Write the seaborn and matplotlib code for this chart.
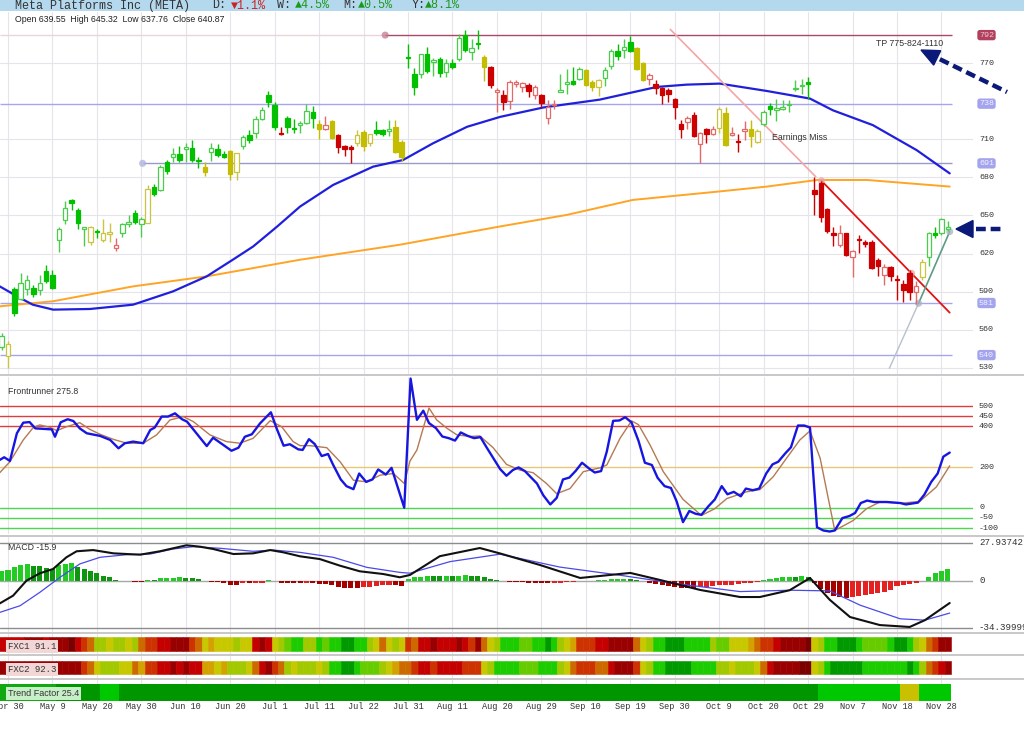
import matplotlib
matplotlib.use("Agg")
import matplotlib.pyplot as plt
import matplotlib.transforms as mtrans
from matplotlib.lines import Line2D
from matplotlib.patches import Rectangle, Polygon
import numpy as np
import seaborn as sns

# ---------------- data (bar index 0 = Apr 30) ----------------
bar_idx = list(range(-1, 149))
opens = [546, 539, 592, 584, 592, 593, 591, 606, 603, 631, 646, 662, 654, 639, 629, 637.5, 631, 635, 624, 636,
         643.5, 652, 643, 644, 672, 670, 692, 696, 698, 702, 703, 694, 688, 700, 702, 698, 701, 684, 705, 713,
         715, 726, 745, 737, 715, 727, 719, 721.5, 723, 731.5, 722, 718, 724, 713.5, 704.6, 703.5, 707, 716, 707, 717,
         717, 716.3, 720, 708, 775, 761, 761, 777, 771, 773, 763, 770, 773, 792, 778.6, 785.7, 775, 767, 747, 744.6,
         740, 753.8, 751, 752.5, 744.6, 744.6, 727, 737, 747.2, 753.3, 756, 757.7, 764.8, 755, 751.2, 758.5, 768, 779.4, 780.5, 786.5,
         782, 770, 757.7, 753.3, 750, 748.5, 742, 722, 723.7, 729.4, 706, 717.7, 714.5, 719, 730.7, 713.2, 708.8, 716.6, 717.7, 708,
         721.9, 736, 733.4, 734, 736.8, 749.6, 751.7, 755, 670, 675.8, 655, 636, 627, 636, 617.2, 631.3, 628.7, 628.7, 614.6, 603.3,
         609.3, 599.9, 596.2, 605, 589.4, 601.5, 617.2, 636.5, 636.5, 639.55]
highs = [557, 551, 594, 605, 603, 595, 603, 611, 607, 641, 661, 663, 656, 641, 642, 639, 647, 644, 632, 644,
         650, 654, 649, 674, 675, 690, 694, 703, 705, 707, 709, 696, 692, 707, 706, 701, 701.5, 699, 713, 717,
         728, 735, 748, 739, 720, 728, 726, 724, 738, 736, 725, 728, 725, 714, 705.4, 705.4, 717, 717, 714.5, 724,
         718.4, 725, 725.5, 709, 785, 766, 777, 783, 774, 775, 773, 773, 793, 796, 789, 796, 776, 767.4, 750, 748.5,
         756.4, 756.4, 755, 754, 752.5, 746, 741, 741, 761.6, 765.6, 767, 767, 765.6, 756.4, 757.7, 767, 781, 784.7, 789, 791,
         783, 770.8, 762.2, 757, 751.2, 750, 742.8, 725, 728, 731.5, 716, 719.2, 720.3, 735, 735, 719.8, 714.5, 724.5, 725, 717.7,
         733.4, 738.6, 742, 741, 740.7, 756.4, 757.7, 759, 680.5, 677.4, 655.6, 641, 642.5, 636.5, 623, 634.7, 630.8, 630.3, 616.4, 612,
         610.4, 603.3, 599.4, 606.7, 598, 615.6, 637.3, 641.2, 647.8, 645.32]
lows = [544, 530, 571, 583, 587, 586, 587, 597, 592, 621, 643, 654, 639, 626, 627, 632, 629, 629, 622, 633,
        641, 643, 633, 644, 665, 669, 683, 692, 692, 692, 692, 687, 681, 693, 696, 695.5, 678, 678, 702, 707,
        711, 725, 735, 717, 713, 715, 715, 715, 722, 719, 710, 717, 710, 699, 697, 691, 705, 701, 704.6, 713,
        712.4, 712.4, 699, 693, 766, 745, 758.5, 762, 760, 759, 759, 765.6, 772, 779, 772.6, 781, 756, 750, 731.5, 733.4,
        734, 751.2, 747, 743, 742, 735, 722, 734, 747, 746, 752.5, 756.4, 751.7, 748, 743.8, 751.7, 765.6, 772.6, 774, 778.6,
        764.8, 755.9, 752.5, 745.4, 738, 739.4, 726.3, 710.6, 718.4, 711.4, 691, 706.7, 713.2, 715, 704.6, 712.4, 700, 709.3, 704, 707.2,
        720.3, 729, 724.5, 732.8, 731.5, 748, 746, 742, 650.4, 645.2, 636, 626, 625.5, 618.2, 601.5, 620.3, 625.5, 607.7, 602, 595.4,
        598, 583.7, 581.6, 583.7, 580.5, 599.4, 609.8, 632.1, 634.7, 637.76]
closes = [555, 549, 573, 597, 599, 588, 597, 598, 593, 639, 656, 660, 644, 641, 641, 637, 636, 637, 627, 643,
          644.5, 645, 647, 671, 667, 688, 685, 698, 694, 703.5, 694, 693, 684, 703, 697.5, 696.2, 683, 699, 712, 709,
          726, 733, 739, 720, 714, 720, 718, 722.5, 732, 727, 718, 721, 711, 703.5, 702, 702.5, 713, 705, 714, 715,
          714, 718, 700, 696, 774, 751, 777, 764, 772.6, 762, 770, 767, 790, 780.5, 782, 785, 767, 752.5, 749, 739.4,
          755, 755, 754, 748, 751, 738.6, 735, 738, 748.5, 755, 753.3, 765.6, 752.5, 751.2, 756.4, 764.8, 779.4, 775.2, 782.6, 779.4,
          765.6, 756.4, 760.3, 750.6, 744.6, 745.4, 735, 718.4, 727, 712.4, 715, 714, 717.7, 734, 705.4, 715, 707.7, 717.7, 712.4, 716.6,
          731.5, 733.6, 734.7, 735, 738.1, 750.6, 752.5, 753.3, 667, 649.1, 638, 634.7, 636, 619, 621.6, 630.3, 627.6, 608.5, 610.4, 609.3,
          602.5, 598.9, 591, 589.4, 594.7, 613, 636, 634.7, 647, 640.87]
# candle tone per bar: g = green, y = yellow, r = red
tones = list("gy" "gggggggggggg" "y" "g" "yy" "r" "gggg" "y" "gggggggg" "y" "ggg" "yy"
             "gggggg" "r" "ggggg" "yry" "rrr" "yyy" "ggg" "yy"                      # Apr 29 - Jul 30
             "gggggggggggg" "y" "rrrrrrrrrrr" "gggg" "yyy" "ggggg" "yy" "rrrrrrrrrrr"
             "yy" "rrr" "yy" "gggggggg"                                             # Jul 31 - Oct 29
             "rrrrrrrrrrrrrrrrr" "y" "gggg")                                         # Oct 30 - Dec 1

blue_ma_x = [-1.3, 1.9, 3.9, 7.1, 12.9, 19.7, 26, 31.3, 35.4, 38.6, 42.4, 46, 51.2, 57.5, 62.2, 66.9, 72.3,
             77.5, 84.3, 93.2, 102.2, 106.9, 112.1, 119.5, 126.3, 129.9, 136.2, 143.1, 148.3]
blue_ma_y = [594.1, 585, 579.7, 575.8, 576.3, 579.7, 590.2, 602, 615.1, 625.5, 641.3, 657, 674, 688.4, 693.6,
             706.7, 719.8, 727.6, 735, 741.2, 751.2, 753, 753.8, 748, 742, 732.8, 721.1, 701.4, 683.1]
orange_ma_x = [-1.3, 7.1, 19.7, 31.3, 46, 61.7, 77.5, 88, 98.4, 111.7, 119.5, 127.4, 135.3, 148.3]
orange_ma_y = [578.4, 582.4, 594.1, 602, 615.1, 626.9, 641.3, 650.4, 662.2, 668.7, 672.7, 677.9, 677.9, 672.7]

# horizontal levels: (price, start bar, line colour, label box, label text colour)
levels = [(792, 59.4, '#a8486a', '#b0405c', '#f3c9d6'),
          (738, -1.3, '#a4a4f0', '#a3a3ee', '#f2f2ff'),
          (691, 21.2, '#9a9ac8', '#a3a3ee', '#f2f2ff'),
          (581, -1.3, '#a4a4f0', '#a3a3ee', '#f2f2ff'),
          (540, -1.3, '#a4a4f0', '#a3a3ee', '#f2f2ff')]
price_ticks = [770, 710, 680, 650, 620, 590, 560, 530]

# drawn trend lines: x0, y0, x1, y1, colour, width
trend_lines = [(104.3, 796.5, 127.2, 680.5, '#f3a6a6', 1.2),
               (128.1, 677.3, 148.3, 573.4, '#e01414', 1.3),
               (138.8, 529.6, 143.4, 580.8, '#b8c0cc', 1.0),
               (143.4, 580.8, 148.3, 637.2, '#5c9c84', 1.2)]
dots_x = [59.4, 21.2, 128.1, 142.3, 143.4, 148.3]
dots_y = [792, 691, 677.3, 604.4, 580.8, 637.2]
dots_c = ['#c27a8c', '#aab0dd', '#eaa6a6', '#eaa6a6', '#aab2c2', '#aab2c2']

fr_x = [-1.3, -0.6, 0.3, 1.4, 2.4, 3.4, 4.3, 6.9, 7.4, 8.3, 9.4, 10.3, 11.3, 12.4, 14.5, 16.1, 17.4, 18.4, 19.7, 21.3,
        22.4, 23.1, 24.2, 25.2, 26.3, 27.4, 28.2, 31.3, 32.3, 35.2, 36.3, 37.3, 38.4, 39.7, 41.4, 42.3, 43.4, 44.4, 45.7, 46.4,
        47.4, 48.3, 49.4, 50.4, 51.2, 52.4, 53.3, 54.4, 55.3, 56.4, 57.4, 58.3, 59.5, 60.4, 62.4, 63.4, 64.4, 65.4, 66.3, 67.4,
        68.4, 69.4, 70.4, 71.3, 72.4, 73.4, 74.4, 75.4, 77.5, 78.5, 79.5, 80.4, 81.4, 83.3, 84.3, 85.4, 86.4, 87.4, 88.4, 89.4,
        90.4, 91.5, 92.4, 93.4, 94.3, 95.3, 96.3, 97.2, 98.2, 99.3, 100.3, 101.4, 102.3, 103.4, 104.4, 105.3, 106.3, 107.3, 108.3, 109.2,
        110.3, 111.3, 112.4, 113.3, 114.3, 115.4, 116.2, 117.3, 118.3, 119.4, 120.4, 121.3, 122.4, 123.3, 124.4, 125.4, 126.3, 127.4, 128.4, 129.4,
        130.2, 131.4, 132.5, 133.4, 134.3, 135.3, 136.4, 138.4, 140.5, 141.4, 143.3, 144.3, 145.4, 146.4, 147.3, 148.3]
fr_y = [235, 248, 230, 366, 418, 421, 390, 385, 349, 420, 435, 426, 390, 366, 353, 333, 292, 317, 325, 317,
        382, 394, 448, 448, 464, 435, 423, 303, 344, 280, 295, 349, 361, 415, 469, 390, 305, 312, 287, 284,
        337, 313, 254, 264, 211, 139, 106, 91, 168, 127, 139, 188, 163, 196, 0, 635, 432, 477, 416, 391,
        350, 342, 330, 370, 353, 342, 347, 295, 190, 157, 185, 198, 180, 119, 61, 16, 48, 139, 148, 181,
        221, 193, 173, 180, 276, 427, 429, 445, 419, 328, 221, 210, 147, 106, 97, 31, -71, -16, -30, -35,
        7, 40, 106, 66, 78, 56, 94, 86, 94, 168, 213, 226, 267, 297, 404, 404, 394, -96, -112, -117,
        -112, -51, -41, -26, 23, 35, 28, 28, 23, 16, 25, 64, 127, 168, 251, 271]
fr_sig_x = [-1.3, 0.3, 2.4, 4.0, 5.0, 6.6, 7.7, 9.2, 11.3, 12.9, 14.5, 16.6, 18.7, 21.3, 23.4, 25.5, 27.6, 29.2, 31.8, 34.4,
            36.5, 38.6, 41.3, 43.1, 44.9, 46.0, 47.6, 50.2, 52.3, 54.4, 56.5, 58.6, 60.7, 62.4, 63.3, 64.4, 66.3, 67.5, 69.1, 70.7,
            72.8, 74.3, 76.4, 78.5, 80.6, 82.7, 84.8, 86.4, 88.5, 90.6, 93.2, 94.3, 96.4, 98.2, 99.3, 101.1, 103.2, 106.3, 109.2, 111.3,
            113.2, 116.3, 118.4, 120.5, 122.6, 124.7, 126.3, 127.9, 130.2, 133.1, 135.2, 137.3, 141.0, 143.6, 146.2, 148.3]
fr_sig_y = [172, 226, 333, 395, 407, 395, 379, 398, 418, 385, 361, 336, 317, 317, 358, 431, 448, 423, 358, 325,
            317, 341, 428, 398, 325, 305, 305, 295, 226, 135, 127, 160, 168, 119, 229, 284, 490, 432, 391, 358,
            350, 353, 295, 213, 185, 172, 119, 69, 94, 177, 196, 210, 342, 427, 408, 309, 177, 41, -38, -5,
            45, 78, 89, 152, 243, 333, 378, 243, -112, -63, -5, 28, 23, 31, 102, 206]
fr_levels = [(500, '#e03c3c'), (450, '#e03c3c'), (400, '#e03c3c'), (200, '#e6c878'),
             (0, '#4cd84c'), (-50, '#4cd84c'), (-100, '#4cd84c')]

macd_hist = [6.9, 7.8, 10.3, 11.5, 12.3, 11, 11, 9.3, 8.6, 11.5, 12.3, 12.7, 10.3, 8.6, 6.9, 5.4, 3.7, 2.5, 0.5, 0.1,
             0.1, -0.7, -0.7, 0.2, 0.2, 1.7, 2, 2.2, 2.5, 2.2, 1.7, 1, -0.5, -0.7, -1, -1.5, -2.9, -2.9, -2, -2,
             -1.7, -1.5, 0.5, -0.5, -1.5, -1.7, -2, -2, -1.7, -2, -2.5, -2.5, -2.9, -4.4, -5.4, -5.4, -5.4, -4.9, -4.4, -3.7,
             -3.2, -2.9, -2.9, -3.7, 1.5, 2.5, 3, 3.5, 3.5, 3.3, 3.5, 3.5, 3.8, 4, 3.6, 3.3, 2.5, 1.5, 0.5, -0.5,
             -1, -1.2, -1.2, -1.5, -1.5, -1.8, -2, -1.8, -1.5, -1.2, -0.8, -0.5, -0.5, -0.3, 0.2, 0.5, 1, 1.2, 1.5, 1.2,
             0.5, -0.5, -1.5, -2.5, -3.5, -4, -4.5, -5.5, -5.5, -5.5, -5, -4.5, -4, -3.5, -3, -2.8, -2.5, -2, -1.5, -0.8,
             0.5, 1.5, 2, 2.5, 3, 3, 3.2, 2.5, -2, -6, -9, -11, -12, -12.5, -12, -11.5, -10.5, -10, -9, -8,
             -6.5, -4, -3.5, -2.5, -1.5, -0.3, 2.9, 5.9, 7.4, 8.3]
macd_x = [-1.3, 0.8, 2.9, 5, 7.1, 9.2, 10.8, 13.4, 16.6, 20.8, 23.9, 28.1, 30.2, 32.3, 35.5, 38.6, 41.3, 43.4, 46, 49.1,
          52.3, 55.4, 59.1, 61.7, 63.3, 68, 74.3, 77.5, 83.8, 90.1, 98, 102.7, 109, 115.3, 118.4, 123.1, 126.3, 129.4, 132.6, 137.3,
          142, 144.4, 148.3]
macd_y = [-16.7, -11, 0, 5.4, 8.6, 17.2, 21.6, 22.5, 20.1, 19.1, 21.6, 26, 25, 23.3, 19.6, 20.1, 22.5, 20.8, 17.9, 15.9,
          11, 6.9, 4.9, 2.5, 4.2, 18, 24, 20, 11.5, 2, 5.7, 0.5, -6.8, -12, -12, -7, 2, -14, -26.7, -32.6,
          -34, -29, -16.4]
macd_sig_x = [-1.3, 1.9, 5, 8.2, 11.3, 14.5, 18.7, 22.4, 26, 29.2, 33.4, 38.6, 41.8, 46, 51.2, 56.5, 61.7, 63.3, 69.6, 77.5,
              86.9, 96.4, 105.8, 115.3, 123.1, 129.4, 134.2, 140.5, 144.4, 148.3]
macd_sig_y = [-23.3, -18.4, -8.6, 2.5, 12.3, 17.2, 19.1, 19.6, 23.3, 25, 23.8, 21.6, 22.5, 20.8, 17.2, 9.8, 6.1, 5.5, 14, 19.5,
              10, 4, -2.5, -8, -7, -7.5, -18, -28, -29, -23.8]
macd_levels = [27.93742, 0, -34.39999]
macd_level_text = ['27.93742', '0', '-34.39999']

# heat strips: level 0 (deep red) .. 10 (deep green)
fxc1 = [2, 2, 2, 2, 1, 1, 1, 2, 1, 1, 1, 0, 2, 3, 4, 7, 7, 6, 7, 7,
        6, 7, 4, 3, 3, 2, 2, 1, 1, 1, 3, 4, 6, 5, 6, 6, 6, 7, 6, 6,
        2, 1, 2, 6, 7, 8, 9, 9, 7, 7, 9, 8, 9, 9, 10, 10, 9, 9, 7, 6,
        4, 6, 7, 6, 3, 4, 2, 2, 1, 2, 2, 2, 1, 2, 3, 1, 4, 6, 7, 9,
        9, 9, 8, 8, 9, 9, 10, 9, 7, 6, 5, 3, 3, 3, 2, 2, 1, 1, 1, 1,
        4, 6, 7, 9, 9, 10, 10, 10, 9, 9, 9, 9, 7, 8, 8, 6, 6, 6, 5, 4,
        3, 3, 2, 1, 1, 1, 1, 0, 6, 7, 9, 9, 10, 10, 10, 9, 8, 8, 8, 8,
        9, 10, 10, 9, 7, 6, 4, 3, 1, 1]
fxc2 = [1, 1, 1, 1, 1, 1, 1, 1, 1, 1, 1, 1, 1, 3, 4, 6, 7, 7, 7, 6,
        6, 4, 5, 3, 3, 2, 2, 1, 2, 1, 2, 2, 5, 5, 6, 5, 7, 7, 7, 6,
        4, 2, 1, 3, 4, 7, 6, 7, 7, 7, 6, 7, 9, 9, 10, 10, 9, 8, 8, 8,
        7, 6, 5, 4, 4, 3, 2, 2, 3, 2, 2, 2, 2, 3, 3, 3, 6, 7, 9, 9,
        9, 9, 8, 8, 8, 9, 9, 9, 7, 6, 4, 3, 3, 3, 4, 4, 2, 1, 1, 1,
        3, 6, 7, 9, 9, 10, 10, 10, 10, 9, 9, 9, 9, 7, 7, 6, 7, 7, 7, 6,
        4, 2, 1, 1, 1, 1, 0, 0, 6, 7, 9, 10, 10, 10, 10, 10, 9, 9, 9, 9,
        9, 9, 9, 10, 9, 7, 4, 3, 2, 1]
trend_runs = [('m', -1, 7), ('d', 8, 14), ('b', 15, 17), ('d', 18, 127), ('b', 128, 140), ('y', 141, 143), ('b', 144, 148)]

date_pos = list(range(0, 148, 7))
date_labels = ['Apr 30', 'May 9', 'May 20', 'May 30', 'Jun 10', 'Jun 20', 'Jul 1', 'Jul 11', 'Jul 22', 'Jul 31', 'Aug 11',
               'Aug 20', 'Aug 29', 'Sep 10', 'Sep 19', 'Sep 30', 'Oct 9', 'Oct 20', 'Oct 29', 'Nov 7', 'Nov 18', 'Nov 28']

# ---------------- style ----------------
sns.set_theme(style="white")
plt.rcParams['font.family'] = ['Liberation Sans', 'DejaVu Sans']
MONO = ['Liberation Mono', 'DejaVu Sans Mono']
HEAT = ['#7a0000', '#990000', '#c40000', '#cc3300', '#cc6a00', '#d4a200', '#c8c800', '#a2c800', '#66cc00', '#1ccc00', '#009a00']
TREND = {'m': '#12a812', 'd': '#009600', 'b': '#00c800', 'y': '#c8c000'}
GRID = '#e4e4ea'
TXT = '#333333'

W, H = 1024, 735
fig = plt.figure(figsize=(W / 100, H / 100), dpi=100)
XL = (-1.26, 151.97)


def fy(px):
    return 1 - px / H


def panel(top, bottom, ylim):
    ax = fig.add_axes([0, fy(bottom), 973 / W, (bottom - top) / H])
    ax.set_xlim(*XL)
    ax.set_ylim(*ylim)
    ax.axis('off')
    for p in date_pos:
        ax.axvline(p, color=GRID, lw=0.8, zorder=0)
    return ax


def right_label(ax, val, text, size=6, color=TXT, box=None):
    tr = mtrans.blended_transform_factory(fig.transFigure, ax.transData)
    kw = {}
    if box is not None:
        kw['bbox'] = dict(boxstyle='round,pad=0.2,rounding_size=0.3', fc=box, ec='none')
    ax.text(979 / W, val, text, transform=tr, ha='left', va='center', fontsize=size,
            family=MONO, color=color, clip_on=False, **kw)


# header
fig.add_artist(Rectangle((0, fy(11)), 1, 11 / H, transform=fig.transFigure, fc='#b4d8ee', ec='none'))
fig.text(15 / W, fy(5.5), 'Meta Platforms Inc (META)', family=MONO, fontsize=8.5, color=TXT, va='center')
for xpx, txt, col in [(212, 'D:', TXT), (231, '▼1.1%', '#cc2222'), (277, 'W:', TXT), (295, '▲4.5%', '#1a9a1a'),
                      (343, 'M:', TXT), (358, '▲0.5%', '#1a9a1a'), (412, 'Y:', TXT), (425, '▲8.1%', '#1a9a1a')]:
    fig.text(xpx / W, fy(5.5), txt, family=MONO, fontsize=8.5, color=col, va='center')
fig.text(15 / W, fy(19), 'Open 639.55  High 645.32  Low 637.76  Close 640.87', fontsize=6.3, color='#222', va='center')

# ---------------- price panel ----------------
ax = panel(12, 374, (525.1, 810.2))
for t in price_ticks:
    ax.axhline(t, color=GRID, lw=0.8, zorder=0)
    right_label(ax, t, str(t))
ax.hlines(792, XL[0], 59.4, color='#ecd2da', lw=1, zorder=1)
for val, x0, col, box, tcol in levels:
    ax.hlines(val, x0, 148.6, color=col, lw=1, zorder=1)
    right_label(ax, val, str(val), color=tcol, box=box)

sns.lineplot(x=orange_ma_x, y=orange_ma_y, ax=ax, color='#ffa424', linewidth=1.4, sort=False, estimator=None, zorder=2)
sns.lineplot(x=blue_ma_x, y=blue_ma_y, ax=ax, color='#2020dc', linewidth=1.6, sort=False, estimator=None, zorder=2)
for x0, y0, x1, y1, col, lw in trend_lines:
    ax.plot([x0, x1], [y0, y1], color=col, lw=lw, zorder=2.5)
ax.scatter(dots_x, dots_y, s=26, c=dots_c, alpha=0.75, linewidths=0, zorder=2.6)

fill_col = {'g': '#00c000', 'y': '#c4bc00', 'r': '#cc0000'}
line_col = {'g': '#4ccc4c', 'y': '#cbc443', 'r': '#e46a6a'}
for x, o, h, l, c, t in zip(bar_idx, opens, highs, lows, closes, tones):
    up = c > o
    edge = line_col[t] if up else fill_col[t]
    ax.vlines(x, l, h, color=edge, lw=1, zorder=3)
    ax.bar(x, max(abs(c - o), 0.8), bottom=min(o, c), width=0.7,
           color='white' if up else fill_col[t], edgecolor=edge, linewidth=0.9, zorder=4)

ax.text(147.2, 785, 'TP 775-824-1110', ha='right', va='center', fontsize=6.3, color=TXT)
ax.text(120.3, 711.7, 'Earnings Miss', ha='left', va='center', fontsize=6.3, color=TXT)

# ---------------- frontrunner ----------------
ax2 = panel(377, 534, (-129.3, 642.6))
for val, col in fr_levels:
    ax2.axhline(val, color=col, lw=1, zorder=1)
    right_label(ax2, val, str(val))
sns.lineplot(x=fr_sig_x, y=fr_sig_y, ax=ax2, color='#b47a52', linewidth=1.0, sort=False, estimator=None, zorder=2)
sns.lineplot(x=fr_x, y=fr_y, ax=ax2, color='#1616e0', linewidth=1.7, sort=False, estimator=None, zorder=3)
fig.text(8 / W, fy(391), 'Frontrunner 275.8', fontsize=6.3, color=TXT, va='center')

# ---------------- MACD ----------------
ax3 = panel(537, 632, (-37.7, 32.1))
for val, txt, col in zip(macd_levels, macd_level_text, ['#8c8c8c', '#a8a8a8', '#8c8c8c']):
    ax3.axhline(val, color=col, lw=1, zorder=1)
    right_label(ax3, val, txt, size=6.6)
hist_cols = []
prev = 0
for v in macd_hist:
    if v >= 0:
        hist_cols.append('#22cc22' if v > prev else '#0e960e')
    else:
        hist_cols.append('#e42020' if v > prev else '#a50000')
    prev = v
ax3.bar(bar_idx, macd_hist, width=0.8, color=hist_cols, linewidth=0, zorder=2)
sns.lineplot(x=macd_sig_x, y=macd_sig_y, ax=ax3, color='#4a4ae8', linewidth=0.9, sort=False, estimator=None, zorder=3)
sns.lineplot(x=macd_x, y=macd_y, ax=ax3, color='#111111', linewidth=1.5, sort=False, estimator=None, zorder=4)
fig.text(8 / W, fy(547), 'MACD -15.9', fontsize=6.3, color=TXT, va='center')

# ---------------- heat strips ----------------
ax4 = panel(633, 702, (702, 633))
ax4.bar(bar_idx, 14, bottom=637, width=1.0, color=[HEAT[v] for v in fxc1],
        edgecolor=[HEAT[v] for v in fxc1], linewidth=0.4, zorder=2)
ax4.bar(bar_idx, 13, bottom=661, width=1.0, color=[HEAT[v] for v in fxc2],
        edgecolor=[HEAT[v] for v in fxc2], linewidth=0.4, zorder=2)
for code, a, b in trend_runs:
    ax4.bar((a + b) / 2, 17, bottom=684, width=b - a + 1, color=TREND[code], linewidth=0, zorder=2)
fig.text(8 / W, fy(646.5), 'FXC1 91.1', family=MONO, fontsize=6.5, color=TXT, va='center',
         bbox=dict(boxstyle='square,pad=0.2', fc='#f3d6d6', ec='none'))
fig.text(8 / W, fy(669.5), 'FXC2 92.3', family=MONO, fontsize=6.5, color=TXT, va='center',
         bbox=dict(boxstyle='square,pad=0.2', fc='#f3d6d6', ec='none'))
fig.text(8 / W, fy(693.5), 'Trend Factor 25.4', fontsize=6.5, color=TXT, va='center',
         bbox=dict(boxstyle='square,pad=0.2', fc='#c8f0c8', ec='none'))

tr = mtrans.blended_transform_factory(ax4.transData, fig.transFigure)
for p, lab in zip(date_pos, date_labels):
    ax4.text(p, fy(706.5), lab, transform=tr, ha='center', va='center', family=MONO,
             fontsize=6.2, color=TXT, clip_on=False)

# panel separators
for ypx in [375.5, 535.5, 633, 655, 679]:
    fig.add_artist(Line2D([0, 1], [fy(ypx), fy(ypx)], transform=fig.transFigure, color='#c8c8c8', lw=1.4))

# navy callout arrows (figure pixels)
NAVY = '#0b1a78'
for tip, tail, hl, hw in [((921, 50), (1007, 92), 18, 8), ((956, 229), (1005, 229), 17, 8.5)]:
    tip = np.array(tip, float)
    tail = np.array(tail, float)
    u = (tail - tip) / np.linalg.norm(tail - tip)
    n = np.array([-u[1], u[0]])
    base = tip + u * hl
    pts = [tip, base + n * hw, base - n * hw]
    fig.add_artist(Polygon([(px / W, fy(py)) for px, py in pts], closed=True, transform=fig.transFigure,
                           fc=NAVY, ec=NAVY))
    fig.add_artist(Line2D([(base[0] + u[0] * 3) / W, tail[0] / W], [fy(base[1] + u[1] * 3), fy(tail[1])],
                          transform=fig.transFigure, color=NAVY, lw=3.2, dashes=(2.2, 1.1),
                          solid_capstyle='butt', dash_capstyle='butt'))

fig.savefig('out.png', dpi=100)
